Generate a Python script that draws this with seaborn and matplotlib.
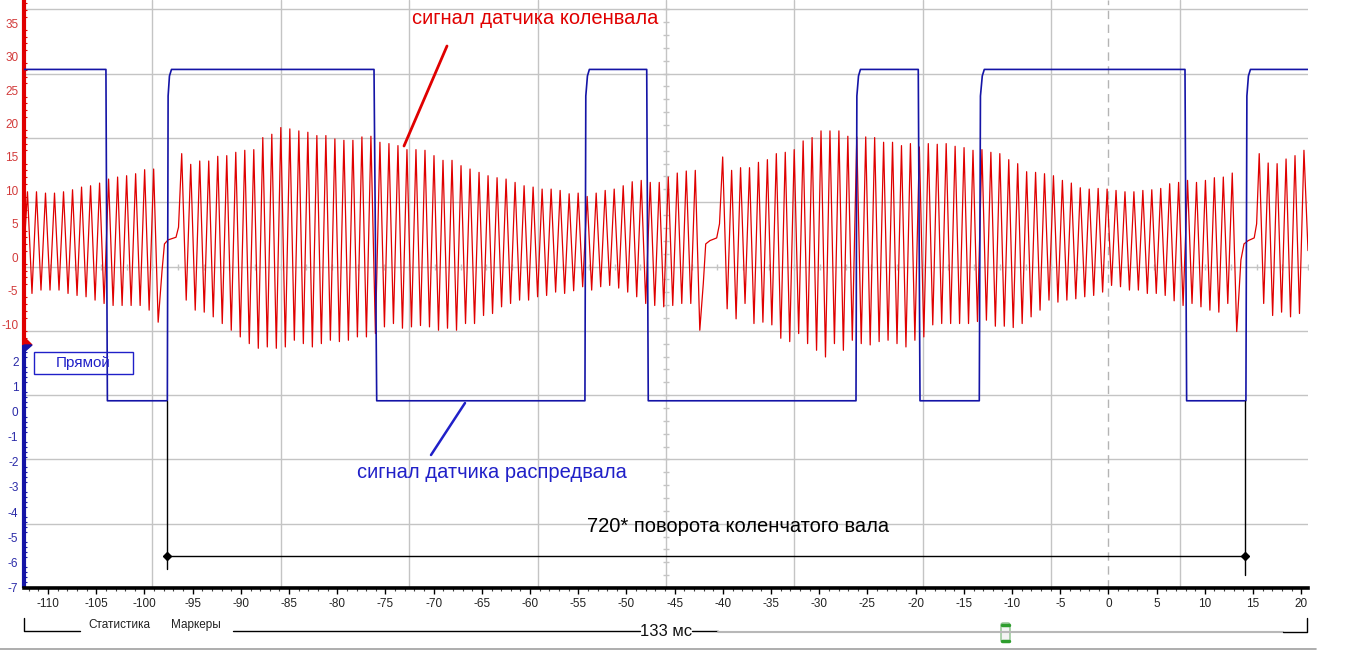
import matplotlib
matplotlib.use("Agg")
import matplotlib.pyplot as plt
from matplotlib.patches import Polygon, Rectangle, FancyBboxPatch
from matplotlib.ticker import FixedLocator, MultipleLocator
import numpy as np
import seaborn as sns

# --- crank sensor (red, scale on top-left), peaks / troughs per tooth ---
# revolution segments between the missing-tooth gaps: first peak time (ms), tooth pitch (ms)
crank_a_start, crank_a_pitch = -112.14, 0.935
crank_a_peaks = [9.8, 9.8, 9.6, 9.6, 9.8, 10.1, 10.5, 10.7, 11.1, 11.7, 12.0, 12.2, 12.5, 13.1, 13.2]
crank_a_troughs = [-5.4, -4.9, -4.9, -4.9, -5.4, -5.7, -5.9, -6.4, -6.9, -7.2, -7.2, -7.2, -7.2, -7.9, -9.7]

crank_b_start, crank_b_pitch = -96.14, 0.9347
crank_b_peaks = [15.5, 13.9, 14.4, 14.4, 15.1, 15.2, 15.7, 16.0, 16.1, 17.9, 18.4, 19.4, 19.2, 18.9,
                 18.7, 18.2, 18.2, 17.7, 17.5, 17.5, 18.0, 18.1, 17.2, 17.0, 16.7, 16.1, 16.1, 16.0,
                 15.2, 14.5, 14.5, 13.7, 13.2, 12.7, 12.2, 11.9, 11.7, 11.2, 10.7, 10.5, 10.2, 10.2,
                 10.0, 9.5, 9.6, 9.1, 9.6, 10.0, 10.2, 10.7, 11.3, 11.5, 11.2, 11.2, 12.0, 12.6,
                 12.9, 13.0]
crank_b_troughs = [-6.4, -7.9, -8.2, -8.9, -9.9, -10.9, -11.9, -12.9, -13.6, -13.4, -13.6, -13.4,
                   -12.4, -12.9, -13.4, -12.9, -12.4, -12.6, -12.4, -11.9, -11.9, -11.4, -10.4,
                   -9.9, -10.6, -10.4, -10.2, -10.4, -10.9, -10.6, -10.9, -9.9, -9.9, -8.7, -8.4,
                   -7.4, -6.9, -6.4, -6.4, -5.9, -5.7, -5.2, -5.4, -5.0, -4.4, -4.9, -4.4, -4.2,
                   -4.6, -5.2, -5.9, -6.9, -7.2, -7.4, -7.2, -6.9, -6.9, -10.9]

crank_c_start, crank_c_pitch = -40.02, 0.9274
crank_c_peaks = [15.0, 13.0, 13.4, 13.4, 14.2, 14.6, 15.5, 15.7, 16.1, 17.4, 17.9, 18.9, 18.9, 18.9,
                 18.1, 18.0, 18.0, 17.9, 17.2, 17.2, 16.7, 17.0, 16.5, 17.0, 16.9, 17.0, 16.6, 16.4,
                 16.0, 16.1, 15.7, 15.5, 14.6, 14.0, 12.8, 12.7, 12.5, 12.2, 11.5, 11.1, 10.4, 10.2,
                 10.3, 10.2, 10.0, 9.8, 9.8, 10.0, 10.1, 10.3, 11.0, 11.2, 11.5, 11.2, 11.5, 11.9,
                 12.0, 12.6]
crank_c_troughs = [-7.7, -9.2, -6.9, -9.9, -9.7, -10.1, -12.1, -12.6, -11.4, -12.9, -13.9, -14.9,
                   -12.9, -13.9, -12.4, -12.9, -13.1, -12.6, -12.4, -12.9, -13.4, -12.4, -11.9,
                   -10.1, -9.9, -9.9, -9.9, -9.9, -9.6, -9.4, -10.3, -10.3, -10.5, -9.9, -8.9,
                   -7.9, -6.4, -6.7, -6.4, -6.2, -5.9, -5.7, -5.2, -4.2, -4.4, -4.9, -4.9, -5.4,
                   -5.4, -5.7, -6.5, -7.2, -6.9, -7.4, -7.9, -8.2, -6.9, -11.1]

crank_d_start, crank_d_pitch = 15.64, 0.928
crank_d_peaks = [15.5, 14.1, 14.0, 14.7, 15.2, 16.0]
crank_d_troughs = [-6.9, -8.7, -8.2, -8.9, -8.4]

# missing-tooth gaps (time ms, value)
gap1_t = [-98.18, -97.93, -97.56, -96.73, -96.47]
gap1_v = [-2.0, 2.0, 2.6, 3.0, 4.5]
gap2_t = [-42.03, -41.78, -41.34, -40.64, -40.35]
gap2_v = [-3.9, 2.0, 2.5, 2.9, 5.0]
gap3_t = [13.74, 14.06, 14.5, 15.12, 15.37]
gap3_v = [-0.4, 2.0, 2.5, 2.9, 5.0]
crank_first = (-112.5, 1.0)
crank_last = (20.7, 1.0)

# --- cam sensor (blue, scale on bottom-left) ---
cam_t = [-112.5, -104.0, -103.85, -97.63, -97.55, -97.41, -97.2, -76.19, -75.91,
         -54.31, -54.22, -54.05, -53.85, -47.9, -47.74, -26.19, -26.1, -25.93, -25.73,
         -19.73, -19.55, -13.4, -13.28, -13.09, -12.88, 7.94, 8.11,
         14.26, 14.36, 14.52, 14.73, 20.7]
cam_v = [13.66, 13.66, 0.44, 0.44, 12.6, 13.4, 13.66, 13.66, 0.44,
         0.44, 12.6, 13.4, 13.66, 13.66, 0.44, 0.44, 12.6, 13.4, 13.66,
         13.66, 0.44, 0.44, 12.6, 13.4, 13.66, 13.66, 0.44,
         0.44, 12.6, 13.4, 13.66, 13.66]

# 720 deg marker between the two cam rising edges
span_t = [-97.7, 14.16]
span_level = -5.75
span_drop = [-6.28, -6.5]

x_ticks = list(range(-110, 21, 5))
red_ticks = list(range(-10, 36, 5))
blue_ticks = list(range(-7, 3))

RED = "#e00000"
RED_LBL = "#d23a3a"
BLUE = "#1414a6"
BLUE_LBL = "#2a2aa8"
BLUE_TXT = "#2020c8"
GRID = "#c4c4c4"


def teeth(t0, pitch, peaks, troughs):
    t, v = [], []
    for i, p in enumerate(peaks):
        t.append(t0 + i * pitch)
        v.append(p)
        if i < len(troughs):
            t.append(t0 + (i + 0.5) * pitch)
            v.append(troughs[i])
    return t, v


def main() -> None:
    sns.set_theme(style="white")
    plt.rcParams["font.family"] = ["Liberation Sans", "DejaVu Sans"]
    plt.rcParams["axes.unicode_minus"] = False

    W, H = 1345, 654
    fig = plt.figure(figsize=(W / 100, H / 100), dpi=100, facecolor="white")
    rect = [24 / W, (H - 588) / H, (1308 - 24) / W, 588 / H]

    # --- division grid (10 x 10 screen divisions, top cut off) ---
    grid_ax = fig.add_axes(rect)
    grid_ax.set_xlim(0, 10)
    grid_ax.set_ylim(0, 588 / 64.3)
    for k in range(1, 10):
        grid_ax.axvline(k, color=GRID, lw=1)
        grid_ax.axhline(k, color=GRID, lw=1)
    fine = np.arange(0, 10.01, 0.2)
    grid_ax.plot(fine, np.full_like(fine, 5), ls="none", marker="|", ms=5, color=GRID, mew=1)
    grid_ax.plot(np.full_like(fine, 5), fine, ls="none", marker="_", ms=5, color=GRID, mew=1)
    grid_ax.axis("off")

    # --- signals ---
    ax = fig.add_axes(rect)
    ax.patch.set_visible(False)
    ax2 = ax.twinx()
    ax2.patch.set_visible(False)

    red_t, red_v = [crank_first[0]], [crank_first[1]]
    for seg, gap in [((crank_a_start, crank_a_pitch, crank_a_peaks, crank_a_troughs), (gap1_t, gap1_v)),
                     ((crank_b_start, crank_b_pitch, crank_b_peaks, crank_b_troughs), (gap2_t, gap2_v)),
                     ((crank_c_start, crank_c_pitch, crank_c_peaks, crank_c_troughs), (gap3_t, gap3_v)),
                     ((crank_d_start, crank_d_pitch, crank_d_peaks, crank_d_troughs), ([], []))]:
        t, v = teeth(*seg)
        red_t += t + gap[0]
        red_v += v + gap[1]
    red_t.append(crank_last[0])
    red_v.append(crank_last[1])

    ax.axvline(0, color="#b4b4b4", lw=1, ls=(0, (6, 4)), zorder=0)
    sns.lineplot(x=red_t, y=red_v, ax=ax, color=RED, linewidth=0.9,
                 estimator=None, sort=False)
    sns.lineplot(x=cam_t, y=cam_v, ax=ax2, color=BLUE, linewidth=1.2,
                 estimator=None, sort=False)

    # 720 deg span
    for t, d in zip(span_t, span_drop):
        ax2.plot([t, t], [cam_v[3], d], color="black", lw=1)
    ax2.plot(span_t, [span_level, span_level], color="black", lw=1,
             marker="D", ms=4.5)

    ax.set_xlim(-112.5, 20.7)
    ax.set_ylim(-49.44, 38.47)
    ax2.set_ylim(-7.03, 16.43)

    ax.set_xticks(x_ticks)
    ax.xaxis.set_minor_locator(MultipleLocator(1))
    ax.tick_params(axis="x", which="major", labelsize=8.5, labelcolor="#222222",
                   length=4, width=1, color="black", pad=3, bottom=True)
    ax.tick_params(axis="x", which="minor", length=2, width=0.8, color="#444444", bottom=True)

    ax.yaxis.set_major_locator(FixedLocator(red_ticks))
    ax.yaxis.set_minor_locator(FixedLocator(list(range(-13, 39))))
    ax.tick_params(axis="y", which="major", labelsize=8.5, labelcolor=RED_LBL,
                   length=0, pad=4, left=True)
    ax.tick_params(axis="y", which="minor", length=2, width=0.8, color=RED,
                   direction="in", left=True)

    ax2.yaxis.tick_left()
    ax2.yaxis.set_label_position("left")
    ax2.yaxis.set_major_locator(FixedLocator(blue_ticks))
    ax2.yaxis.set_minor_locator(FixedLocator(list(np.arange(-7.0, 2.7, 0.2))))
    ax2.tick_params(axis="y", which="major", labelsize=8.5, labelcolor=BLUE_LBL,
                    length=0, pad=4, left=True, right=False)
    ax2.tick_params(axis="y", which="minor", length=2, width=0.8, color=BLUE,
                    direction="in", left=True, right=False)

    for a in (ax, ax2):
        a.set_xlabel("")
        a.set_ylabel("")
        for side in ("left", "right", "top"):
            a.spines[side].set_visible(False)
    ax2.spines["bottom"].set_visible(False)
    ax.spines["bottom"].set_color("black")
    ax.spines["bottom"].set_linewidth(2.6)

    # two-coloured left axis line
    split = (588 - 345) / 588
    ax.plot([0, 0], [1, split], transform=ax.transAxes, color=RED, lw=3,
            clip_on=False, solid_capstyle="butt")
    ax.plot([0, 0], [split, 0], transform=ax.transAxes, color=BLUE, lw=3,
            clip_on=False, solid_capstyle="butt")

    # --- overlay in screen pixels: labels, pointers, status bar ---
    ov = fig.add_axes([0, 0, 1, 1])
    ov.set_xlim(0, W)
    ov.set_ylim(H, 0)
    ov.axis("off")
    ov.patch.set_visible(False)

    ov.add_patch(Polygon([(24, 337), (32, 345), (24, 345)], closed=True, color=RED))
    ov.add_patch(Polygon([(24, 345), (32, 345), (24, 352)], closed=True, color=BLUE))

    ov.text(535, 19, "сигнал датчика коленвала", color=RED, fontsize=14.5,
            ha="center", va="center")
    ov.plot([447, 404], [46, 146], color=RED, lw=2)
    ov.text(492, 473, "сигнал датчика распредвала", color=BLUE_TXT, fontsize=14.5,
            ha="center", va="center")
    ov.plot([465, 431], [403, 455], color=BLUE_TXT, lw=1.8)
    ov.text(738, 527, "720* поворота коленчатого вала", color="black", fontsize=14.5,
            ha="center", va="center")

    ov.add_patch(Rectangle((34, 352), 99, 22, fill=False, edgecolor=BLUE_TXT, lw=1))
    ov.text(83.5, 363, "Прямой", color=BLUE_TXT, fontsize=11, ha="center", va="center")

    ov.plot([24, 24, 80], [618, 631, 631], color="black", lw=1)
    ov.text(88, 625, "Статистика", fontsize=8.5, color="#222222", va="center")
    ov.text(171, 625, "Маркеры", fontsize=8.5, color="#222222", va="center")
    ov.plot([233, 640], [631, 631], color="black", lw=1)
    ov.text(666, 631, "133 мс", fontsize=12, color="#111111", ha="center", va="center")
    ov.plot([692, 718], [631, 631], color="black", lw=1)
    ov.plot([718, 1283], [632, 632], color="#b8b8b8", lw=1.5)
    ov.add_patch(FancyBboxPatch((1001, 623), 9, 19, boxstyle="round,pad=0,rounding_size=2",
                                fc="#f4f4f4", ec="#8cc08c", lw=1))
    ov.plot([1002, 1009], [624.5, 624.5], color="#2e9e2e", lw=2.5)
    ov.plot([1002, 1009], [640.5, 640.5], color="#2e9e2e", lw=2.5)
    ov.plot([1283, 1307, 1307], [632, 632, 618], color="black", lw=1)
    ov.plot([0, 1316], [649, 649], color="#a0a0a0", lw=1.2)

    fig.savefig("out.png", dpi=100, facecolor="white")
    plt.close(fig)


if __name__ == "__main__":
    main()
